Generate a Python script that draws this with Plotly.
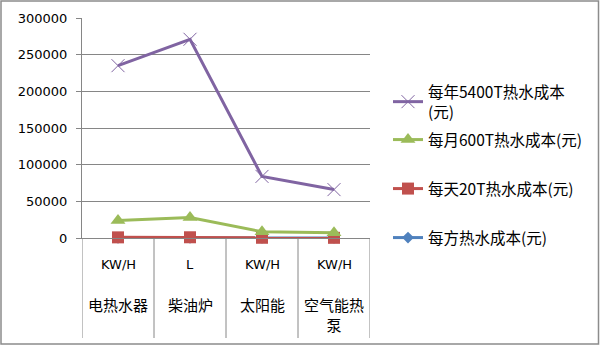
import plotly.graph_objects as go

# Heating methods: metering unit and name
units = ["KW/H", "L", "KW/H", "KW/H"]
methods = ["电热水器", "柴油炉", "太阳能", "空气能热<br>泵"]

# Hot water cost (元) per method
cost_per_m3 = [43.5, 50, 15.5, 12.2]
cost_daily_20t = [870, 1000, 310, 245]
cost_monthly_600t = [24000, 28000, 8500, 7300]
cost_yearly_5400t = [235000, 271000, 84000, 66000]

y_ticks = [0, 50000, 100000, 150000, 200000, 250000, 300000]

W, H = 600, 347
L, R, T, B = 82, 370, 18, 238
pw, ph = R - L, B - T

TXT = "DejaVu Sans, Noto Sans CJK SC"
CJK = "Noto Sans CJK SC, DejaVu Sans"

x = list(range(len(methods)))

# (legend name, values, colour, marker symbol, marker size, legend id, legend top px)
series = [
    ("每方热水成本(元)", cost_per_m3, "#4F81BD", "diamond", 9, "legend4", 221),
    ("每天20T热水成本(元)", cost_daily_20t, "#C0504D", "square", 12, "legend3", 172),
    ("每月600T热水成本(元)", cost_monthly_600t, "#9BBB59", "triangle-up", 13, "legend2", 123),
    ("每年5400T热水成本<br>(元)", cost_yearly_5400t, "#8064A2", "x-thin", 13, "legend", 75),
]

fig = go.Figure()
legends = {}
for name, vals, color, sym, size, leg, top in series:
    marker = dict(symbol=sym, size=size, color=color)
    if sym == "x-thin":
        marker["line"] = dict(color=color, width=1)
    fig.add_trace(go.Scatter(
        x=x, y=vals, name=name, mode="lines+markers",
        line=dict(color=color, width=3),
        marker=marker, cliponaxis=False,
        legend=leg,
    ))
    legends[leg] = dict(xref="container", yref="container",
                        x=388 / W, y=1 - top / H,
                        xanchor="left", yanchor="top",
                        font=dict(family=CJK, size=15.5, color="#000"),
                        itemwidth=30, bgcolor="rgba(0,0,0,0)")

annotations = []
shapes = []
for i, (u, m) in enumerate(zip(units, methods)):
    annotations.append(dict(x=i, y=0, xref="x", yref="paper", text=u,
                            showarrow=False, yanchor="middle", yshift=-26,
                            font=dict(family=TXT, size=13, color="#000")))
    annotations.append(dict(x=i, y=0, xref="x", yref="paper", text=m,
                            showarrow=False, yanchor="top", yshift=-54,
                            font=dict(family=CJK, size=15, color="#000")))

# Category dividers below the axis
for k in range(len(methods) + 1):
    shapes.append(dict(type="line", xref="x", yref="paper",
                       x0=k - 0.5, x1=k - 0.5, y0=0, y1=-100 / ph,
                       line=dict(color="#868686", width=1)))

# Chart border
shapes.append(dict(type="rect", xref="paper", yref="paper",
                   x0=(1 - L) / pw, x1=(W - 1.5 - L) / pw,
                   y0=(B - (H - 3)) / ph, y1=(B - 1) / ph,
                   line=dict(color="#8c8c8c", width=1.5)))

fig.update_layout(
    width=W, height=H,
    margin=dict(l=L, r=W - R, t=T, b=H - B, pad=0, autoexpand=False),
    paper_bgcolor="white", plot_bgcolor="white",
    showlegend=True,
    xaxis=dict(range=[-0.5, 3.5], showticklabels=False, showgrid=False,
               zeroline=False, showline=True, linecolor="#868686", linewidth=1,
               ticks="", fixedrange=True),
    yaxis=dict(range=[0, 300000], tickvals=y_ticks, tickformat="d",
               showgrid=True, gridcolor="#868686", gridwidth=1,
               zeroline=False, showline=True, linecolor="#868686", linewidth=1,
               ticks="outside", ticklen=5, tickcolor="#868686",
               tickfont=dict(family=TXT, size=13, color="#000"),
               ticklabelstandoff=6),
    annotations=annotations,
    shapes=shapes,
    **legends,
)

fig.write_html("out.html")
